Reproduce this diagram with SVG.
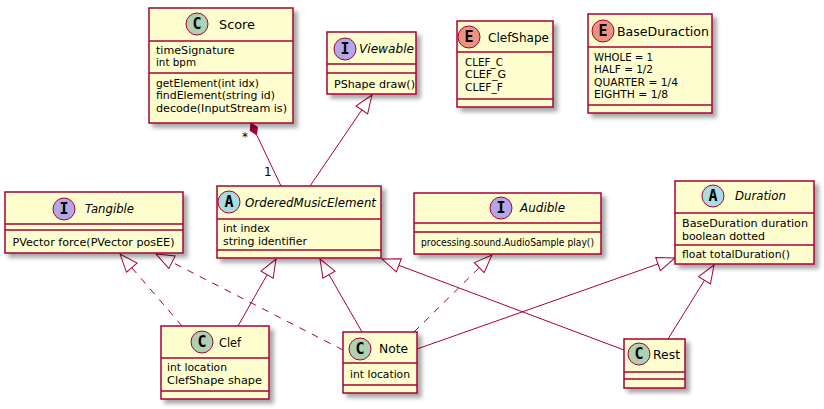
<svg xmlns="http://www.w3.org/2000/svg" width="824" height="409" viewBox="0 0 824 409">
<defs>
<filter id="sh" x="-10%" y="-10%" width="130%" height="130%">
<feGaussianBlur in="SourceAlpha" stdDeviation="2"/>
<feOffset dx="4" dy="4" result="b"/>
<feComponentTransfer><feFuncA type="linear" slope="0.35"/></feComponentTransfer>
<feMerge><feMergeNode/><feMergeNode in="SourceGraphic"/></feMerge>
</filter>
<marker id="tri" markerUnits="userSpaceOnUse" viewBox="0 0 20 16" markerWidth="20" markerHeight="16" refX="19" refY="8" orient="auto">
<path d="M1,1 L19,8 L1,15 Z" fill="#FFFFFF" stroke="#A80036" stroke-width="1" stroke-dasharray="none"/>
</marker>
<marker id="dia" markerUnits="userSpaceOnUse" viewBox="0 0 14 10" markerWidth="14" markerHeight="10" refX="0.5" refY="5" orient="auto">
<path d="M0.5,5 L7,1 L13.5,5 L7,9 Z" fill="#A80036" stroke="#A80036" stroke-width="1"/>
</marker>
</defs>
<style>
.box{fill:#FEFECE;stroke:#A80036;stroke-width:1.5;filter:url(#sh)}
.sep{stroke:#A80036;stroke-width:1.5}
.t{font-family:"DejaVu Sans","Liberation Sans",sans-serif;font-size:12.5px;fill:#000}
.ti{font-family:"DejaVu Sans","Liberation Sans",sans-serif;font-size:12.5px;font-style:italic;fill:#000}
.m{font-family:"DejaVu Sans","Liberation Sans",sans-serif;font-size:10.5px;fill:#000}
.L{font-family:"DejaVu Sans Mono","Liberation Mono",monospace;font-size:15px;font-weight:bold;fill:#000}
.cC{fill:#ADD1B2;stroke:#A80036;stroke-width:1}
.cI{fill:#B4A7E5;stroke:#A80036;stroke-width:1}
.cA{fill:#A9DCDF;stroke:#A80036;stroke-width:1}
.cE{fill:#EB937F;stroke:#A80036;stroke-width:1}
.ln{fill:none;stroke:#A80036;stroke-width:1}
.ext{marker-end:url(#tri)}
.dash{stroke-dasharray:7,7}
.lbl{font-family:"DejaVu Sans","Liberation Sans",sans-serif;font-size:12px;fill:#000}
</style>

<g id="connectors">
<line class="ln" x1="251" y1="123" x2="281" y2="186" marker-start="url(#dia)"/>
<text class="lbl" x="242" y="141">*</text>
<text class="lbl" x="264" y="176">1</text>
<line class="ln ext" x1="310" y1="186" x2="372" y2="95"/>
<line class="ln ext dash" x1="182" y1="326" x2="120" y2="254"/>
<line class="ln ext dash" x1="343" y1="350" x2="156" y2="254"/>
<line class="ln ext" x1="238" y1="326" x2="276" y2="259"/>
<line class="ln ext" x1="362" y1="332" x2="320" y2="259"/>
<line class="ln ext" x1="624" y1="350" x2="382" y2="259"/>
<line class="ln ext dash" x1="414" y1="332" x2="492" y2="255"/>
<line class="ln ext" x1="417" y1="349" x2="675" y2="258"/>
<line class="ln ext" x1="668" y1="339" x2="714" y2="265"/>
</g>

<g id="Score">
<rect class="box" x="149" y="8" width="144" height="115"/>
<circle class="cC" cx="197" cy="24" r="11"/>
<text class="L" x="197" y="29" text-anchor="middle">C</text>
<text class="t" x="219" y="29" textLength="36" lengthAdjust="spacingAndGlyphs">Score</text>
<line class="sep" x1="149" y1="41" x2="293" y2="41"/>
<text class="m" x="156" y="54" textLength="78.7" lengthAdjust="spacingAndGlyphs">timeSignature</text>
<text class="m" x="156" y="66" textLength="40" lengthAdjust="spacingAndGlyphs">int bpm</text>
<line class="sep" x1="149" y1="73" x2="293" y2="73"/>
<text class="m" x="156" y="87" textLength="103" lengthAdjust="spacingAndGlyphs">getElement(int idx)</text>
<text class="m" x="156" y="99" textLength="119" lengthAdjust="spacingAndGlyphs">findElement(string id)</text>
<text class="m" x="156" y="112" textLength="131" lengthAdjust="spacingAndGlyphs">decode(InputStream is)</text>
</g>

<g id="Viewable">
<rect class="box" x="327" y="32" width="89" height="62"/>
<circle class="cI" cx="345" cy="49" r="11"/>
<text class="L" x="345" y="54" text-anchor="middle">I</text>
<text class="ti" x="359" y="53" textLength="55" lengthAdjust="spacingAndGlyphs">Viewable</text>
<line class="sep" x1="327" y1="64" x2="416" y2="64"/>
<line class="sep" x1="327" y1="73" x2="416" y2="73"/>
<text class="m" x="334" y="88" textLength="81" lengthAdjust="spacingAndGlyphs">PShape draw()</text>
</g>

<g id="ClefShape">
<rect class="box" x="457" y="21" width="96" height="86"/>
<circle class="cE" cx="469" cy="37" r="11"/>
<text class="L" x="469" y="42" text-anchor="middle">E</text>
<text class="t" x="488" y="42" textLength="61" lengthAdjust="spacingAndGlyphs">ClefShape</text>
<line class="sep" x1="457" y1="52" x2="553" y2="52"/>
<text class="m" x="465" y="66" textLength="38" lengthAdjust="spacingAndGlyphs">CLEF_C</text>
<text class="m" x="465" y="78" textLength="41" lengthAdjust="spacingAndGlyphs">CLEF_G</text>
<text class="m" x="465" y="91" textLength="38" lengthAdjust="spacingAndGlyphs">CLEF_F</text>
<line class="sep" x1="457" y1="99" x2="553" y2="99"/>
</g>

<g id="BaseDuraction">
<rect class="box" x="588" y="14" width="124" height="99"/>
<circle class="cE" cx="603" cy="31" r="11"/>
<text class="L" x="603" y="36" text-anchor="middle">E</text>
<text class="t" x="617" y="36" textLength="92" lengthAdjust="spacingAndGlyphs">BaseDuraction</text>
<line class="sep" x1="588" y1="47" x2="712" y2="47"/>
<text class="m" x="594" y="61" textLength="59" lengthAdjust="spacingAndGlyphs">WHOLE = 1</text>
<text class="m" x="594" y="73" textLength="59" lengthAdjust="spacingAndGlyphs">HALF = 1/2</text>
<text class="m" x="594" y="86" textLength="84" lengthAdjust="spacingAndGlyphs">QUARTER = 1/4</text>
<text class="m" x="594" y="98" textLength="74" lengthAdjust="spacingAndGlyphs">EIGHTH = 1/8</text>
<line class="sep" x1="588" y1="105" x2="712" y2="105"/>
</g>

<g id="Tangible">
<rect class="box" x="5" y="192" width="178" height="61"/>
<circle class="cI" cx="64" cy="209" r="11"/>
<text class="L" x="64" y="214" text-anchor="middle">I</text>
<text class="ti" x="85" y="213" textLength="49" lengthAdjust="spacingAndGlyphs">Tangible</text>
<line class="sep" x1="5" y1="224" x2="183" y2="224"/>
<line class="sep" x1="5" y1="230" x2="183" y2="230"/>
<text class="m" x="12.5" y="246" textLength="162" lengthAdjust="spacingAndGlyphs">PVector force(PVector posEE)</text>
</g>

<g id="OrderedMusicElement">
<rect class="box" x="217" y="186" width="164" height="72"/>
<circle class="cA" cx="229" cy="202" r="11"/>
<text class="L" x="229" y="207" text-anchor="middle">A</text>
<text class="ti" x="245" y="207" textLength="131" lengthAdjust="spacingAndGlyphs">OrderedMusicElement</text>
<line class="sep" x1="217" y1="219" x2="381" y2="219"/>
<text class="m" x="223" y="232" textLength="47" lengthAdjust="spacingAndGlyphs">int index</text>
<text class="m" x="223" y="245" textLength="84" lengthAdjust="spacingAndGlyphs">string identifier</text>
<line class="sep" x1="217" y1="250" x2="381" y2="250"/>
</g>

<g id="Audible">
<rect class="box" x="414" y="193" width="187" height="61"/>
<circle class="cI" cx="501" cy="208" r="11"/>
<text class="L" x="501" y="213" text-anchor="middle">I</text>
<text class="ti" x="520" y="212" textLength="45" lengthAdjust="spacingAndGlyphs">Audible</text>
<line class="sep" x1="414" y1="223" x2="601" y2="223"/>
<line class="sep" x1="414" y1="232" x2="601" y2="232"/>
<text class="m" x="421" y="246" textLength="173" lengthAdjust="spacingAndGlyphs">processing.sound.AudioSample play()</text>
</g>

<g id="Duration">
<rect class="box" x="675" y="181" width="139" height="83"/>
<circle class="cA" cx="713" cy="196" r="11"/>
<text class="L" x="713" y="201" text-anchor="middle">A</text>
<text class="ti" x="735" y="200" textLength="51" lengthAdjust="spacingAndGlyphs">Duration</text>
<line class="sep" x1="675" y1="213" x2="814" y2="213"/>
<text class="m" x="682" y="227" textLength="126" lengthAdjust="spacingAndGlyphs">BaseDuration duration</text>
<text class="m" x="682" y="240" textLength="83" lengthAdjust="spacingAndGlyphs">boolean dotted</text>
<line class="sep" x1="675" y1="245" x2="814" y2="245"/>
<text class="m" x="682" y="258" textLength="108" lengthAdjust="spacingAndGlyphs">float totalDuration()</text>
</g>

<g id="Clef">
<rect class="box" x="161" y="326" width="108" height="73"/>
<circle class="cC" cx="202" cy="342" r="11"/>
<text class="L" x="202" y="347" text-anchor="middle">C</text>
<text class="t" x="219" y="347" textLength="22" lengthAdjust="spacingAndGlyphs">Clef</text>
<line class="sep" x1="161" y1="358" x2="269" y2="358"/>
<text class="m" x="167" y="371" textLength="60" lengthAdjust="spacingAndGlyphs">int location</text>
<text class="m" x="167" y="384" textLength="95" lengthAdjust="spacingAndGlyphs">ClefShape shape</text>
<line class="sep" x1="161" y1="391" x2="269" y2="391"/>
</g>

<g id="Note">
<rect class="box" x="343" y="332" width="74" height="61"/>
<circle class="cC" cx="360" cy="349" r="11"/>
<text class="L" x="360" y="354" text-anchor="middle">C</text>
<text class="t" x="379" y="353" textLength="29" lengthAdjust="spacingAndGlyphs">Note</text>
<line class="sep" x1="343" y1="363" x2="417" y2="363"/>
<text class="m" x="350" y="378" textLength="60" lengthAdjust="spacingAndGlyphs">int location</text>
<line class="sep" x1="343" y1="385" x2="417" y2="385"/>
</g>

<g id="Rest">
<rect class="box" x="624" y="339" width="61" height="49"/>
<circle class="cC" cx="639" cy="354" r="11"/>
<text class="L" x="639" y="359" text-anchor="middle">C</text>
<text class="t" x="653" y="359" textLength="27" lengthAdjust="spacingAndGlyphs">Rest</text>
<line class="sep" x1="624" y1="372" x2="685" y2="372"/>
<line class="sep" x1="624" y1="379" x2="685" y2="379"/>
</g>
</svg>
